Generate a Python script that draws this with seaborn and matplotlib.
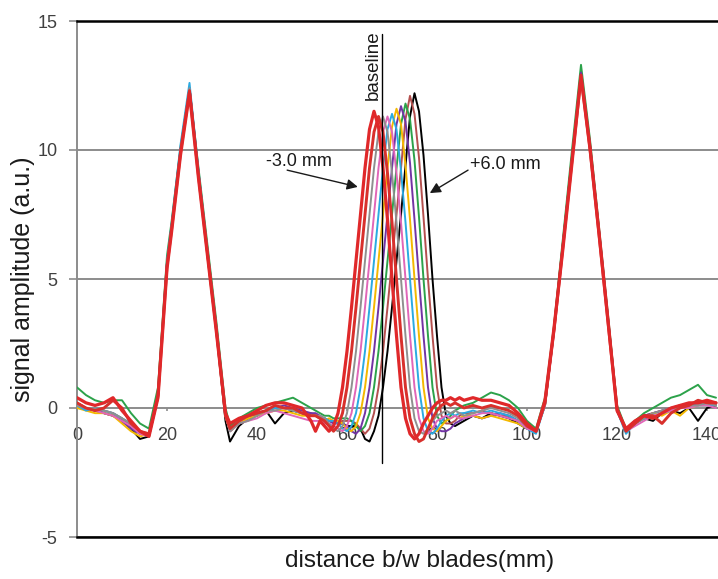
import matplotlib
matplotlib.use("Agg")
import matplotlib.pyplot as plt
import pandas as pd
import seaborn as sns

# ---------------- data ----------------
# sample positions along the blade distance (mm)
x_mm = ([0, 2, 4, 6, 8, 10, 12, 14, 16, 18, 20]
        + [21, 23, 25, 27, 29, 31, 33]
        + [34, 36, 38, 40, 42, 44, 46, 48, 50, 52]
        + list(range(53, 87))
        + list(range(88, 143, 2)))

s_m3 = ([0.4, 0.2, 0.1, 0.2, 0.4, -0.1, -0.5, -0.9, -1.1, 0.4, 5.4]
        + [6.8, 9.8, 12.2, 8.9, 5.9, 2.9, -0.2]
        + [-0.6, -0.4, -0.3, -0.1, 0.1, 0.2, 0.2, 0.1, 0.0, -0.5]
        + [-0.9, -0.5, -0.7, -0.9, -0.7, -0.2, 0.8, 2.2, 3.9, 5.7, 7.5, 9.3, 10.8, 11.5, 10.9, 9.3, 7.3,
           5.0, 2.8, 0.8, -0.4, -1.0, -1.2, -1.0, -0.6, -0.3, 0.0, 0.2, 0.3, 0.3, 0.4, 0.3, 0.4, 0.3]
        + [0.4, 0.3, 0.3, 0.2, 0.1, -0.2, -0.6, -0.9, 0.3, 3.1, 6.2, 9.5, 12.9, 10.1, 6.8, 3.4, -0.1,
           -0.8, -0.5, -0.3, -0.4, -0.2, 0.0, 0.1, 0.2, 0.2, 0.3, 0.2])

s_m2 = ([0.2, 0.0, -0.1, 0.0, 0.3, 0.0, -0.6, -0.9, -1.0, 0.5, 5.5]
        + [6.9, 9.9, 12.3, 9.0, 6.0, 3.0, -0.3]
        + [-0.8, -0.5, -0.3, -0.2, -0.1, 0.1, 0.0, 0.0, -0.2, -0.3]
        + [-0.3, -0.4, -0.5, -0.7, -0.9, -0.7, -0.2, 0.8, 2.2, 3.9, 5.7, 7.5, 9.3, 10.7, 11.3, 10.7, 9.1,
           7.2, 5.0, 2.8, 0.8, -0.4, -1.0, -1.3, -1.2, -0.8, -0.4, -0.1, 0.1, 0.2, 0.1, 0.2, 0.1, 0.0]
        + [0.1, 0.0, 0.1, 0.0, -0.1, -0.3, -0.7, -0.9, 0.2, 3.0, 6.3, 9.6, 12.8, 10.0, 6.7, 3.3, 0.0,
           -0.9, -0.6, -0.3, -0.3, -0.6, -0.2, 0.0, 0.1, 0.3, 0.2, 0.2])

s_m1 = ([0.1, 0.0, 0.0, -0.1, -0.2, -0.4, -0.6, -0.9, -1.0, 0.5, 5.6]
        + [7.0, 10.0, 12.4, 9.1, 6.0, 3.0, -0.3]
        + [-0.9, -0.6, -0.5, -0.3, -0.1, -0.1, 0.0, -0.1, -0.2, -0.3]
        + [-0.3, -0.3, -0.4, -0.6, -0.8, -0.9, -0.7, -0.2, 0.8, 2.2, 3.9, 5.7, 7.5, 9.3, 10.7, 11.3, 10.7,
           9.1, 7.2, 5.0, 2.8, 0.8, -0.4, -0.9, -1.0, -0.8, -0.5, -0.3, -0.2, -0.1, -0.2, -0.1, -0.2, -0.3]
        + [-0.2, -0.1, 0.0, -0.1, -0.2, -0.4, -0.7, -0.9, 0.2, 3.0, 6.3, 9.6, 12.9, 10.1, 6.8, 3.4, 0.0,
           -0.9, -0.6, -0.4, -0.2, -0.1, 0.0, 0.0, 0.1, 0.1, 0.2, 0.1])

s_0 = ([0.2, 0.0, -0.1, -0.2, -0.3, -0.5, -0.7, -1.0, -1.1, 0.4, 5.5]
       + [6.9, 9.9, 12.3, 9.0, 6.0, 3.0, -0.3]
       + [-0.9, -0.6, -0.5, -0.4, -0.2, -0.1, -0.2, -0.3, -0.4, -0.5]
       + [-0.5, -0.5, -0.6, -0.6, -0.7, -0.8, -0.9, -0.7, -0.2, 0.8, 2.2, 3.9, 5.7, 7.5, 9.3, 10.7, 11.3,
          10.7, 9.1, 7.2, 5.0, 2.8, 0.8, -0.4, -0.9, -1.0, -0.8, -0.5, -0.4, -0.3, -0.4, -0.3, -0.4, -0.4]
       + [-0.3, -0.2, -0.2, -0.3, -0.4, -0.5, -0.8, -0.9, 0.1, 2.9, 6.2, 9.5, 12.8, 10.0, 6.7, 3.3, -0.1,
          -0.9, -0.7, -0.5, -0.3, -0.2, -0.1, 0.0, 0.0, 0.1, 0.1, 0.0])

s_p1 = ([0.1, -0.1, 0.0, -0.1, -0.2, -0.4, -0.6, -0.9, -1.1, 0.5, 5.7]
        + [7.1, 10.2, 12.6, 9.2, 6.1, 3.1, -0.2]
        + [-0.9, -0.5, -0.3, -0.2, -0.1, 0.0, 0.0, -0.1, -0.2, -0.3]
        + [-0.3, -0.4, -0.4, -0.5, -0.5, -0.6, -0.8, -0.9, -0.7, -0.2, 0.8, 2.2, 3.9, 5.7, 7.5, 9.3, 10.8,
           11.4, 10.8, 9.2, 7.2, 5.0, 2.8, 0.8, -0.4, -0.9, -1.0, -0.8, -0.5, -0.3, -0.2, -0.3, -0.2, -0.2]
        + [-0.1, -0.2, -0.1, -0.2, -0.3, -0.5, -0.8, -1.0, 0.1, 3.0, 6.3, 9.6, 12.9, 10.1, 6.8, 3.4, -0.1,
           -1.0, -0.6, -0.4, -0.3, -0.2, -0.1, 0.0, 0.1, 0.1, 0.1, 0.1])

s_p2 = ([0.0, -0.1, -0.2, -0.2, -0.3, -0.6, -0.9, -1.1, -1.0, 0.4, 5.5]
        + [6.9, 9.9, 12.3, 9.0, 6.0, 3.0, -0.3]
        + [-0.9, -0.6, -0.4, -0.3, -0.2, -0.1, -0.1, -0.2, -0.3, -0.3]
        + [-0.3, -0.4, -0.5, -0.4, -0.5, -0.5, -0.6, -0.8, -0.9, -0.7, -0.2, 0.8, 2.2, 3.9, 5.7, 7.5, 9.3,
           10.9, 11.6, 11.0, 9.4, 7.3, 5.0, 2.8, 0.8, -0.4, -0.8, -0.9, -0.7, -0.5, -0.4, -0.3, -0.4, -0.3]
        + [-0.3, -0.4, -0.3, -0.4, -0.5, -0.6, -0.8, -0.9, 0.1, 3.0, 6.3, 9.6, 12.9, 10.1, 6.8, 3.4, -0.1,
           -0.9, -0.6, -0.4, -0.2, -0.3, -0.1, -0.3, 0.0, 0.1, 0.1, 0.1])

s_p3 = ([0.1, 0.0, -0.1, -0.2, -0.3, -0.5, -0.8, -1.0, -1.0, 0.5, 5.6]
        + [7.0, 10.0, 12.4, 9.1, 6.0, 3.0, -0.3]
        + [-0.9, -0.6, -0.4, -0.2, -0.1, 0.0, 0.1, 0.0, -0.1, -0.2]
        + [-0.2, -0.3, -0.4, -0.5, -0.6, -0.6, -0.6, -0.7, -0.9, -1.0, -0.8, -0.2, 0.8, 2.2, 3.9, 5.7, 7.5,
           9.3, 11.0, 11.7, 11.1, 9.5, 7.3, 5.0, 2.8, 0.8, -0.4, -0.8, -0.9, -0.9, -0.8, -0.6, -0.5, -0.4]
        + [-0.3, -0.4, -0.3, -0.2, -0.3, -0.5, -0.7, -0.9, 0.2, 3.1, 6.4, 9.7, 13.0, 10.2, 6.9, 3.5, 0.0,
           -0.9, -0.6, -0.3, -0.2, -0.1, 0.0, 0.1, 0.1, 0.2, 0.2, 0.1])

s_p4 = ([0.8, 0.5, 0.3, 0.2, 0.3, 0.3, -0.2, -0.6, -0.8, 0.8, 5.9]
        + [7.2, 10.1, 12.4, 9.3, 6.3, 3.3, 0.0]
        + [-0.7, -0.4, -0.2, 0.0, 0.1, 0.2, 0.3, 0.4, 0.2, 0.0]
        + [-0.1, -0.2, -0.3, -0.3, -0.4, -0.4, -0.4, -0.4, -0.5, -0.7, -0.9, -0.7, -0.2, 0.8, 2.2, 3.9, 5.7,
           7.5, 9.3, 11.0, 11.8, 11.2, 9.6, 7.4, 5.0, 2.8, 0.8, -0.3, -0.6, -0.5, -0.3, -0.1, 0.0, 0.1]
        + [0.2, 0.4, 0.6, 0.5, 0.3, 0.0, -0.5, -0.8, 0.4, 3.2, 6.6, 10.0, 13.3, 10.4, 7.0, 3.6, 0.1,
           -0.8, -0.5, -0.2, 0.0, 0.2, 0.4, 0.5, 0.7, 0.9, 0.5, 0.4])

s_p5 = ([0.2, 0.0, -0.1, -0.1, -0.2, -0.4, -0.7, -1.0, -1.0, 0.5, 5.6]
        + [7.0, 10.0, 12.4, 9.1, 6.0, 3.0, -0.3]
        + [-0.9, -0.6, -0.4, -0.2, -0.1, 0.0, 0.0, -0.1, -0.2, -0.2]
        + [-0.3, -0.4, -0.4, -0.5, -0.5, -0.6, -0.5, -0.5, -0.5, -0.6, -0.8, -1.0, -0.8, -0.2, 0.8, 2.2, 3.9,
           5.7, 7.5, 9.3, 11.2, 12.1, 11.4, 9.7, 7.4, 5.0, 2.8, 0.8, -0.3, -0.6, -0.6, -0.5, -0.3, -0.2]
        + [-0.2, -0.1, -0.2, -0.3, -0.3, -0.5, -0.7, -0.9, 0.2, 3.1, 6.4, 9.7, 13.0, 10.2, 6.9, 3.5, 0.0,
           -0.9, -0.6, -0.3, -0.2, -0.1, 0.0, 0.1, 0.1, 0.1, 0.2, 0.1])

s_p6 = ([0.2, 0.0, -0.1, -0.2, -0.3, -0.5, -0.8, -1.2, -1.1, 0.4, 5.5]
        + [6.9, 9.9, 12.3, 9.0, 5.9, 2.9, -0.5]
        + [-1.3, -0.7, -0.4, -0.3, -0.1, -0.6, -0.2, -0.1, -0.2, -0.3]
        + [-0.3, -0.4, -0.4, -0.5, -0.5, -0.6, -0.6, -0.7, -0.7, -0.7, -0.8, -1.2, -1.3, -0.9, -0.3, 0.8, 2.2,
           3.9, 5.7, 7.5, 9.4, 11.3, 12.2, 11.5, 9.8, 7.5, 5.0, 2.8, 0.8, -0.3, -0.6, -0.7, -0.6, -0.5]
        + [-0.3, -0.4, -0.2, -0.3, -0.4, -0.6, -0.8, -0.9, 0.1, 3.0, 6.3, 9.6, 12.9, 10.1, 6.8, 3.4, -0.1,
           -0.9, -0.6, -0.4, -0.5, -0.2, -0.1, -0.2, 0.0, -0.5, 0.0, 0.1])

series_names = ["-3.0 mm", "-2.0 mm", "-1.0 mm", "0.0 mm", "+1.0 mm",
                "+2.0 mm", "+3.0 mm", "+4.0 mm", "+5.0 mm", "+6.0 mm"]
series_values = [s_m3, s_m2, s_m1, s_0, s_p1, s_p2, s_p3, s_p4, s_p5, s_p6]
series_colors = ["#e0282a", "#d8302c", "#8f8f8f", "#e066b8", "#2aaae2",
                 "#f4b800", "#7234a4", "#2ca24a", "#b4504e", "#000000"]
series_widths = [2.3, 2.1, 1.4, 1.4, 1.4, 1.4, 1.4, 1.4, 1.4, 1.4]

y_ticks = [-5, 0, 5, 10, 15]
x_ticks = [0, 20, 40, 60, 80, 100, 120, 140]

# ---------------- figure ----------------
sns.set_style("white")
plt.rcParams["font.family"] = ["Liberation Sans", "DejaVu Sans"]
plt.rcParams["axes.unicode_minus"] = False

fig = plt.figure(figsize=(7.18, 5.79), dpi=100)
ax = fig.add_axes([77 / 718, 42 / 579, 641 / 718, 516 / 579])

frames = []
for name, vals in zip(series_names, series_values):
    frames.append(pd.DataFrame({"x": x_mm, "y": vals, "series": name}))
df = pd.concat(frames, ignore_index=True)

for name, col, lw in reversed(list(zip(series_names, series_colors, series_widths))):
    sub = df[df["series"] == name]
    sns.lineplot(data=sub, x="x", y="y", ax=ax, color=col, linewidth=lw,
                 estimator=None, sort=False, legend=False, zorder=3)

ax.set_xlim(0, 641 / 4.5)
ax.set_ylim(-5, 15)
ax.set_yticks(y_ticks)
ax.yaxis.grid(True, color="#8c8c8c", linewidth=1.4, zorder=1)
ax.xaxis.grid(False)
ax.set_axisbelow(True)

for side in ["top", "bottom"]:
    ax.spines[side].set_color("black")
    ax.spines[side].set_linewidth(1.8)
ax.spines["left"].set_color("#8c8c8c")
ax.spines["left"].set_linewidth(1.4)
ax.spines["right"].set_visible(False)

ax.tick_params(axis="y", direction="out", length=6, width=1.2, color="#8c8c8c",
               labelsize=13, labelcolor="#404040", pad=8, left=True)
ax.tick_params(axis="x", bottom=False, labelbottom=False)

sec = ax.secondary_xaxis(0.25)
sec.set_xticks(x_ticks)
sec.tick_params(direction="out", length=2.5, width=1.2, color="#8c8c8c",
                labelsize=13, labelcolor="#404040", pad=11)
for sp in sec.spines.values():
    sp.set_visible(False)

ax.set_xlabel("distance b/w blades(mm)", fontsize=17.5, color="#1a1a1a")
ax.xaxis.set_label_coords((420 - 77) / 641, -0.026)
ax.set_ylabel("signal amplitude (a.u.)", fontsize=18, color="#1a1a1a")
ax.yaxis.set_label_coords(-0.066, 0.5)

# baseline marker and annotations
ax.plot([67.8, 67.8], [-2.13, 14.5], color="black", linewidth=1.0, zorder=6)
ax.text(65.8, 13.3, "baseline", rotation=90, ha="center", va="center",
        fontsize=13.5, color="#1a1a1a", zorder=6)

ax.text(49.3, 9.55, "-3.0 mm", ha="center", va="center", fontsize=13, color="#1a1a1a", zorder=6)
ax.annotate("", xy=(62.4, 8.57), xytext=(46.7, 9.22),
            arrowprops=dict(arrowstyle="-|>", color="#1a1a1a", lw=1.0,
                            mutation_scale=16, shrinkA=0, shrinkB=0), zorder=6)

ax.text(95.1, 9.42, "+6.0 mm", ha="center", va="center", fontsize=13, color="#1a1a1a", zorder=6)
ax.annotate("", xy=(78.4, 8.33), xytext=(86.9, 9.22),
            arrowprops=dict(arrowstyle="-|>", color="#1a1a1a", lw=1.0,
                            mutation_scale=16, shrinkA=0, shrinkB=0), zorder=6)

fig.savefig("out.png", dpi=100)
